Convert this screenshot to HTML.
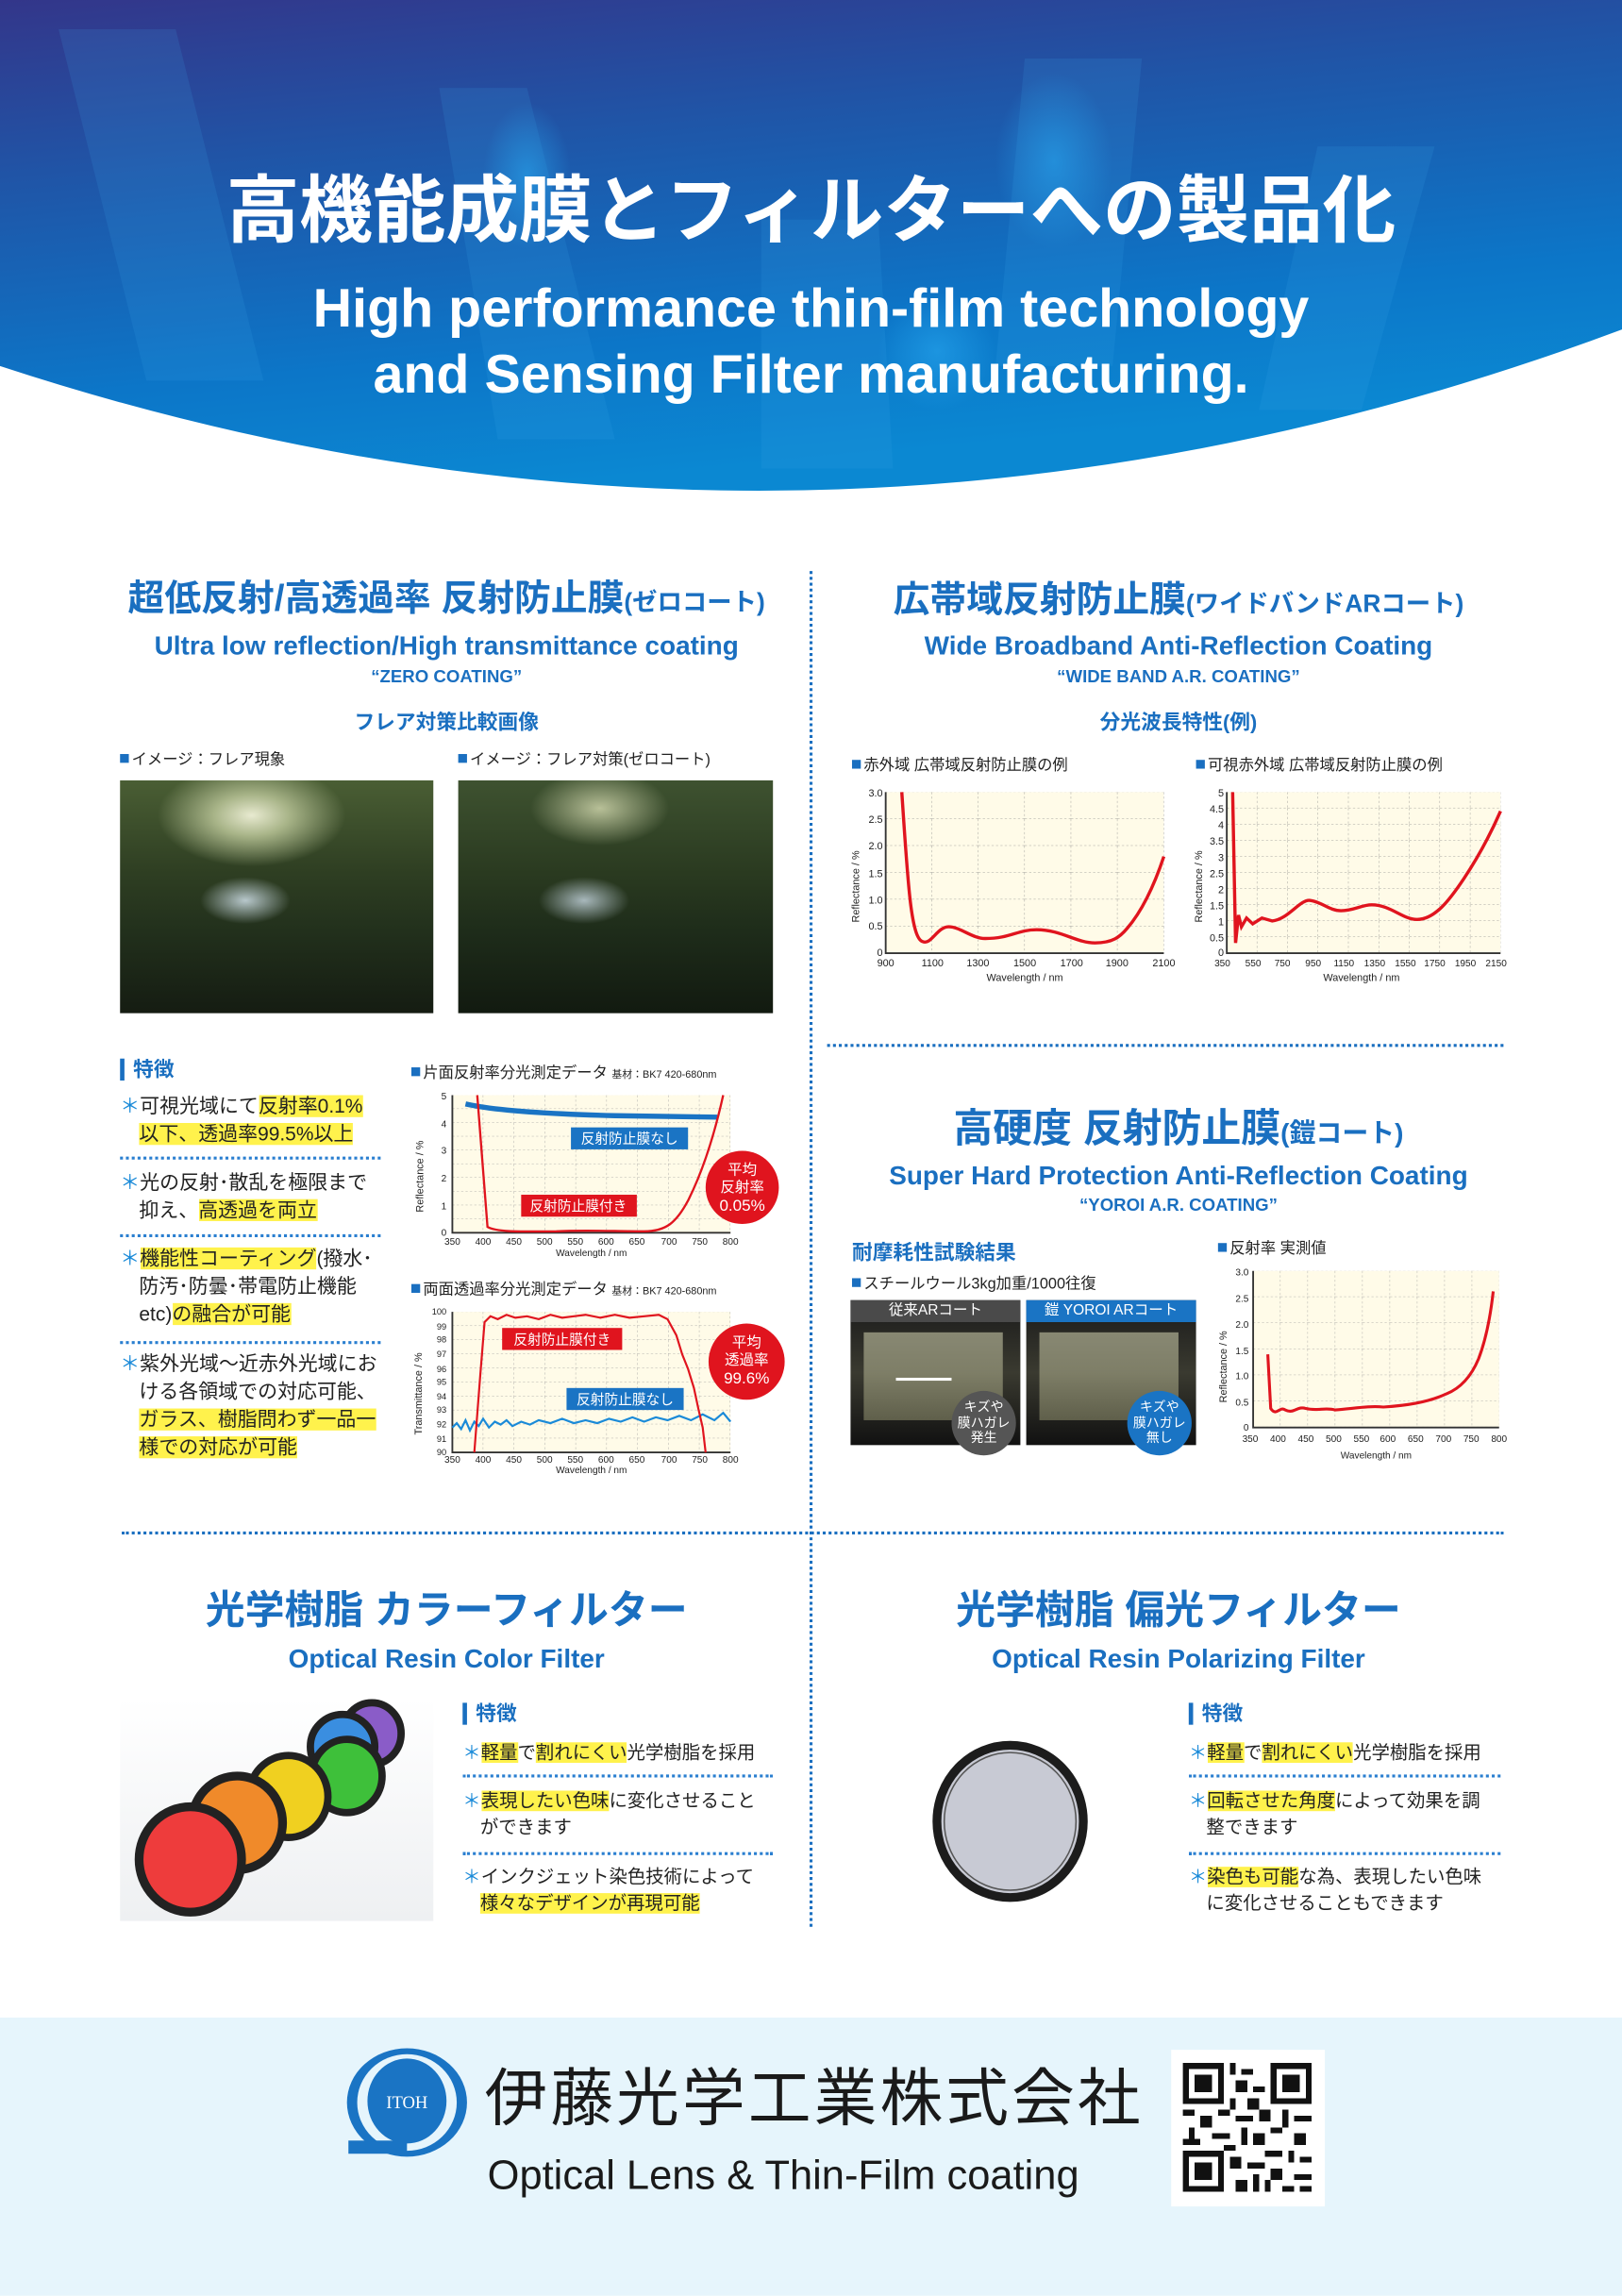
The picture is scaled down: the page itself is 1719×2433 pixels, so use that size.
<!DOCTYPE html>
<html><head><meta charset="utf-8">
<style>
html,body{margin:0;padding:0;background:#fff;}
body{width:1719px;height:2433px;overflow:hidden;position:relative;}
#w{position:absolute;left:0;top:0;width:1108px;height:1568px;transform:scale(1.5515);transform-origin:0 0;font-family:"Liberation Sans","Noto Sans CJK JP",sans-serif;}
.a{position:absolute;white-space:nowrap;}
.c{text-align:center;}
.blue{color:#1a6fc0;}
.b{font-weight:bold;}
.m{background:#fff24c;}
.ast{color:#1a8ad8;}
.t14{font-size:13.5px;color:#222;}
.t13{font-size:12.5px;color:#222;}
.hd{border-left:3px solid #1a6fc0;padding-left:6px;font-size:14px;font-weight:bold;color:#1a6fc0;line-height:15px;}
.dl{position:absolute;border-top:2.5px dotted #1a6fc0;height:0;}
.dls{position:absolute;border-top:2px dotted #2a7fd0;height:0;}
.sq{display:inline-block;width:6px;height:6px;background:#1a6fc0;margin-right:2px;vertical-align:1px;}
</style></head><body>
<div id="w">
<!-- header -->
<svg class="a" style="left:0;top:0" width="1108" height="340" viewBox="0 0 1108 340">
<defs>
<linearGradient id="hg" x1="0" y1="0" x2="0.3" y2="1">
<stop offset="0" stop-color="#33368a"/><stop offset="0.35" stop-color="#1f56a8"/><stop offset="0.75" stop-color="#0c76c8"/><stop offset="1" stop-color="#0b88d2"/></linearGradient>
<radialGradient id="gl" cx="0.5" cy="0.5" r="0.5"><stop offset="0" stop-color="#27a6ee" stop-opacity="0.6"/><stop offset="1" stop-color="#27a6ee" stop-opacity="0"/></radialGradient>
</defs>
<path d="M0,0 H1108 V225 Q554,432 0,250 Z" fill="url(#hg)"/>
<g opacity="0.15" fill="#3fa8e8">
<polygon points="40,20 120,20 180,260 100,260"/><polygon points="300,60 360,60 420,300 340,300"/><polygon points="700,40 780,40 760,250 680,250"/><polygon points="900,100 980,100 930,280 860,280"/><polygon points="520,150 600,150 610,320 520,320"/>
</g>
<ellipse cx="360" cy="120" rx="30" ry="50" fill="url(#gl)"/><ellipse cx="720" cy="110" rx="40" ry="60" fill="url(#gl)"/><ellipse cx="640" cy="240" rx="40" ry="40" fill="url(#gl)"/>
</svg>
<div class="a c b" style="left:0;width:1108px;top:114px;font-size:50px;color:#fff;line-height:60px;">高機能成膜とフィルターへの製品化</div>
<div class="a c" style="left:0;width:1108px;top:189px;font-size:37px;color:#fff;line-height:44px;font-weight:bold;">High performance thin-film technology</div>
<div class="a c" style="left:0;width:1108px;top:234px;font-size:37px;color:#fff;line-height:44px;font-weight:bold;">and Sensing Filter manufacturing.</div>

<!-- dividers -->
<div class="a" style="left:553px;top:390px;height:926px;border-left:2.5px dotted #1a6fc0;"></div>
<div class="dl" style="left:565px;top:713px;width:462px;"></div>
<div class="dl" style="left:83px;top:1046px;width:944px;"></div>

<!-- left top -->
<div class="a c b blue" style="left:60px;width:490px;top:393px;font-size:25px;line-height:32px;">超低反射/高透過率 反射防止膜<span style="font-size:17px">(ゼロコート)</span></div>
<div class="a c b blue" style="left:60px;width:490px;top:429px;font-size:18px;line-height:24px;">Ultra low reflection/High transmittance coating</div>
<div class="a c b blue" style="left:60px;width:490px;top:454px;font-size:12px;line-height:16px;">“ZERO COATING”</div>
<div class="a c b blue" style="left:60px;width:490px;top:484px;font-size:14px;line-height:18px;">フレア対策比較画像</div>
<div class="a" style="left:82px;top:511px;font-size:10.5px;color:#222;"><span class="sq"></span>イメージ：フレア現象</div>
<div class="a" style="left:313px;top:511px;font-size:10.5px;color:#222;"><span class="sq"></span>イメージ：フレア対策(ゼロコート)</div>
<div class="a" style="left:82px;top:533px;width:214px;height:159px;background:radial-gradient(ellipse 30% 22% at 42% 15%,#e8ead0 0%,#a8b488 40%,rgba(90,110,60,0) 100%),linear-gradient(180deg,#4a5e34 0%,#2e3e22 40%,#22301c 65%,#151c12 100%);"></div>
<div class="a" style="left:82px;top:590px;width:214px;height:50px;background:radial-gradient(ellipse 18% 40% at 40% 50%,#b8c8cc 0%,rgba(200,210,210,0) 80%);"></div>
<div class="a" style="left:313px;top:533px;width:215px;height:159px;background:radial-gradient(ellipse 22% 16% at 45% 12%,#b8c098 0%,rgba(90,110,60,0) 100%),linear-gradient(180deg,#3e5230 0%,#2a3a20 40%,#1e2c1a 65%,#121a10 100%);"></div>
<div class="a" style="left:313px;top:590px;width:215px;height:50px;background:radial-gradient(ellipse 18% 40% at 40% 50%,#a8b8bc 0%,rgba(200,210,210,0) 80%);"></div>

<!-- right top -->
<div class="a c b blue" style="left:555px;width:500px;top:394px;font-size:25px;line-height:32px;">広帯域反射防止膜<span style="font-size:17px">(ワイドバンドARコート)</span></div>
<div class="a c b blue" style="left:555px;width:500px;top:429px;font-size:18px;line-height:24px;">Wide Broadband Anti-Reflection Coating</div>
<div class="a c b blue" style="left:555px;width:500px;top:454px;font-size:12px;line-height:16px;">“WIDE BAND A.R. COATING”</div>
<div class="a c b blue" style="left:555px;width:500px;top:484px;font-size:14px;line-height:18px;">分光波長特性(例)</div>
<div class="a" style="left:582px;top:515px;font-size:10.5px;color:#222;"><span class="sq"></span>赤外域 広帯域反射防止膜の例</div>
<div class="a" style="left:817px;top:515px;font-size:10.5px;color:#222;"><span class="sq"></span>可視赤外域 広帯域反射防止膜の例</div>

<svg class="a" style="left:0;top:0" width="1108" height="1568" viewBox="0 0 1108 1568" font-family="Liberation Sans, sans-serif">
<defs>
<pattern id="gA" x="605" y="541" width="31.67" height="18.33" patternUnits="userSpaceOnUse"><path d="M31.67,0 V18.33 M0,18.33 H31.67" stroke="#888" stroke-width="0.5" stroke-dasharray="1.5,1.5" fill="none"/></pattern>
<pattern id="gB" x="838" y="541" width="20.8" height="11" patternUnits="userSpaceOnUse"><path d="M20.8,0 V11 M0,11 H20.8" stroke="#888" stroke-width="0.5" stroke-dasharray="1.5,1.5" fill="none"/></pattern>
<pattern id="gC" x="309" y="748" width="21.1" height="9.4" patternUnits="userSpaceOnUse"><path d="M21.1,0 V9.4 M0,9.4 H21.1" stroke="#999" stroke-width="0.5" stroke-dasharray="1.5,1.5" fill="none"/></pattern>
<pattern id="gD" x="309" y="896" width="21.1" height="9.6" patternUnits="userSpaceOnUse"><path d="M21.1,0 V9.6 M0,9.6 H21.1" stroke="#999" stroke-width="0.5" stroke-dasharray="1.5,1.5" fill="none"/></pattern>
<pattern id="gE" x="856" y="868" width="18.7" height="17.8" patternUnits="userSpaceOnUse"><path d="M18.7,0 V17.8 M0,17.8 H18.7" stroke="#999" stroke-width="0.5" stroke-dasharray="1.5,1.5" fill="none"/></pattern>
</defs>
<!-- chart A -->
<rect x="605" y="541" width="190" height="110" fill="#fffbe8"/><rect x="605" y="541" width="190" height="110" fill="url(#gA)"/>
<path d="M605,541 V651 H795" stroke="#333" stroke-width="1.2" fill="none"/>
<path d="M616,541 C620,600 622,640 630,643 C636,646 640,633 648,633 C656,633 664,641 673,641 C690,641 695,635 708,635 C725,635 735,644 748,644 C760,644 765,640 770,634 C782,620 790,600 795,585" stroke="#e0141e" stroke-width="2.2" fill="none"/>
<g font-size="7" fill="#222" text-anchor="end"><text x="603" y="544">3.0</text><text x="603" y="562">2.5</text><text x="603" y="580">2.0</text><text x="603" y="599">1.5</text><text x="603" y="617">1.0</text><text x="603" y="635">0.5</text><text x="603" y="653">0</text></g>
<g font-size="7" fill="#222" text-anchor="middle"><text x="605" y="660">900</text><text x="637" y="660">1100</text><text x="668" y="660">1300</text><text x="700" y="660">1500</text><text x="732" y="660">1700</text><text x="763" y="660">1900</text><text x="795" y="660">2100</text><text x="700" y="670">Wavelength / nm</text></g>
<text transform="translate(587,630) rotate(-90)" font-size="7" fill="#222">Reflectance / %</text>
<!-- chart B -->
<rect x="838" y="541" width="187" height="110" fill="#fffbe8"/><rect x="838" y="541" width="187" height="110" fill="url(#gB)"/>
<path d="M838,541 V651 H1025" stroke="#333" stroke-width="1.2" fill="none"/>
<path d="M842,541 L844,644 L846,625 L848,633 L851.5,627 L855.7,631 L862,627 L869,629 C880,628 888,614 895,615 C903,616 908,622 916,622 C925,622 930,618 937,618 C950,618 958,628 968,628 C980,628 990,615 1000,600 C1010,585 1018,570 1025,554" stroke="#e0141e" stroke-width="2.2" fill="none"/>
<g font-size="7" fill="#222" text-anchor="end"><text x="836" y="544">5</text><text x="836" y="555">4.5</text><text x="836" y="566">4</text><text x="836" y="577">3.5</text><text x="836" y="588">3</text><text x="836" y="599">2.5</text><text x="836" y="610">2</text><text x="836" y="621">1.5</text><text x="836" y="632">1</text><text x="836" y="643">0.5</text><text x="836" y="653">0</text></g>
<g font-size="6.5" fill="#222" text-anchor="middle"><text x="835" y="660">350</text><text x="856" y="660">550</text><text x="876" y="660">750</text><text x="897" y="660">950</text><text x="918" y="660">1150</text><text x="939" y="660">1350</text><text x="960" y="660">1550</text><text x="980" y="660">1750</text><text x="1001" y="660">1950</text><text x="1022" y="660">2150</text><text x="930" y="670" font-size="7">Wavelength / nm</text></g>
<text transform="translate(821,630) rotate(-90)" font-size="7" fill="#222">Reflectance / %</text>
<!-- chart C -->
<rect x="309" y="748" width="190" height="94" fill="#fffbe8"/><rect x="309" y="748" width="190" height="94" fill="url(#gC)"/>
<path d="M309,748 V842 H499" stroke="#333" stroke-width="1.2" fill="none"/>
<path d="M318,754 C340,759 380,761 420,762 L490,763" stroke="#1a74c4" stroke-width="3.5" fill="none"/>
<path d="M326,748 L333,838 C340,842 360,841 380,841 C400,840 420,841 440,841 C455,841 462,835 470,820 C480,800 488,775 494,748" stroke="#e0141e" stroke-width="1.5" fill="none"/>
<g font-size="6.5" fill="#222" text-anchor="end"><text x="305" y="751">5</text><text x="305" y="770">4</text><text x="305" y="788">3</text><text x="305" y="807">2</text><text x="305" y="826">1</text><text x="305" y="844">0</text></g>
<g font-size="6.5" fill="#222" text-anchor="middle"><text x="309" y="850">350</text><text x="330" y="850">400</text><text x="351" y="850">450</text><text x="372" y="850">500</text><text x="393" y="850">550</text><text x="414" y="850">600</text><text x="435" y="850">650</text><text x="457" y="850">700</text><text x="478" y="850">750</text><text x="499" y="850">800</text><text x="404" y="858">Wavelength / nm</text></g>
<text transform="translate(289,828) rotate(-90)" font-size="7" fill="#222">Reflectance / %</text>
<rect x="390" y="770" width="80" height="15" fill="#1a74c4"/><text x="430" y="781" fill="#fff" font-size="9.5" text-anchor="middle" font-family="Liberation Sans, Noto Sans CJK JP, sans-serif">反射防止膜なし</text>
<rect x="356" y="816" width="79" height="15" fill="#e0141e"/><text x="395" y="827" fill="#fff" font-size="9.5" text-anchor="middle" font-family="Liberation Sans, Noto Sans CJK JP, sans-serif">反射防止膜付き</text>
<circle cx="507" cy="811" r="25" fill="#e0141e"/>
<g fill="#fff" font-size="10" text-anchor="middle" font-family="Liberation Sans, Noto Sans CJK JP, sans-serif"><text x="507" y="802">平均</text><text x="507" y="814">反射率</text><text x="507" y="827" font-size="11">0.05%</text></g>
<!-- chart D -->
<rect x="309" y="896" width="190" height="96" fill="#fffbe8"/><rect x="309" y="896" width="190" height="96" fill="url(#gD)"/>
<path d="M309,896 V992 H499" stroke="#333" stroke-width="1.2" fill="none"/>
<polyline points="309,975 312,972 315,976 318,970 321,977 324,971 327,974 330,969 334,975 338,971 342,973 346,970 350,974 356,971 362,973 368,970 376,972 384,969 392,972 400,970 408,972 416,969 424,971 432,968 440,971 448,968 456,970 464,967 472,970 480,966 488,970 494,965 499,971" stroke="#1a8ad8" stroke-width="1.4" fill="none"/>
<polyline points="324,992 328,940 331,903 335,899 340,901 346,898 352,900 360,899 368,901 376,898 384,900 392,899 400,898 410,900 420,898 430,900 440,899 450,898 456,901 462,912 466,925 470,935 474,948 477,962 480,975 482,992" stroke="#e0141e" stroke-width="1.4" fill="none"/>
<g font-size="6" fill="#222" text-anchor="end"><text x="305" y="898">100</text><text x="305" y="908">99</text><text x="305" y="917">98</text><text x="305" y="927">97</text><text x="305" y="937">96</text><text x="305" y="946">95</text><text x="305" y="956">94</text><text x="305" y="965">93</text><text x="305" y="975">92</text><text x="305" y="985">91</text><text x="305" y="994">90</text></g>
<g font-size="6.5" fill="#222" text-anchor="middle"><text x="309" y="999">350</text><text x="330" y="999">400</text><text x="351" y="999">450</text><text x="372" y="999">500</text><text x="393" y="999">550</text><text x="414" y="999">600</text><text x="435" y="999">650</text><text x="457" y="999">700</text><text x="478" y="999">750</text><text x="499" y="999">800</text><text x="404" y="1006">Wavelength / nm</text></g>
<text transform="translate(288,980) rotate(-90)" font-size="7" fill="#222">Transmittance / %</text>
<rect x="343" y="907" width="82" height="15" fill="#e0141e"/><text x="384" y="918" fill="#fff" font-size="9.5" text-anchor="middle" font-family="Liberation Sans, Noto Sans CJK JP, sans-serif">反射防止膜付き</text>
<rect x="387" y="948" width="80" height="15" fill="#1a74c4"/><text x="427" y="959" fill="#fff" font-size="9.5" text-anchor="middle" font-family="Liberation Sans, Noto Sans CJK JP, sans-serif">反射防止膜なし</text>
<circle cx="510" cy="930" r="26" fill="#e0141e"/>
<g fill="#fff" font-size="10" text-anchor="middle" font-family="Liberation Sans, Noto Sans CJK JP, sans-serif"><text x="510" y="920">平均</text><text x="510" y="932">透過率</text><text x="510" y="945" font-size="11">99.6%</text></g>
<!-- chart E -->
<rect x="856" y="868" width="168" height="107" fill="#fffbe8"/><rect x="856" y="868" width="168" height="107" fill="url(#gE)"/>
<path d="M856,868 V975 H1024" stroke="#333" stroke-width="1.2" fill="none"/>
<path d="M866,925 L868,962 C872,968 874,960 878,963 C884,966 886,960 892,962 C900,964 905,961 912,963 C925,962 935,960 945,961 C960,960 975,958 988,952 C998,948 1005,940 1010,928 C1015,915 1018,900 1020,882" stroke="#e0141e" stroke-width="2" fill="none"/>
<g font-size="6.5" fill="#222" text-anchor="end"><text x="853" y="871">3.0</text><text x="853" y="889">2.5</text><text x="853" y="907">2.0</text><text x="853" y="925">1.5</text><text x="853" y="942">1.0</text><text x="853" y="960">0.5</text><text x="853" y="977">0</text></g>
<g font-size="6.5" fill="#222" text-anchor="middle"><text x="854" y="985">350</text><text x="873" y="985">400</text><text x="892" y="985">450</text><text x="911" y="985">500</text><text x="930" y="985">550</text><text x="948" y="985">600</text><text x="967" y="985">650</text><text x="986" y="985">700</text><text x="1005" y="985">750</text><text x="1024" y="985">800</text><text x="940" y="996">Wavelength / nm</text></g>
<text transform="translate(838,958) rotate(-90)" font-size="7" fill="#222">Reflectance / %</text>
</svg>

<!-- left middle features -->
<div class="a hd" style="left:82px;top:723px;">特徴</div>
<div class="a t14" style="left:82px;top:746px;line-height:19px;"><span class="ast">＊</span>可視光域にて<span class="m">反射率0.1%</span><br><span style="padding-left:13px"></span><span class="m">以下、透過率99.5%以上</span></div>
<div class="dls" style="left:82px;top:790px;width:178px;"></div>
<div class="a t14" style="left:82px;top:798px;line-height:19px;"><span class="ast">＊</span>光の反射･散乱を極限まで<br><span style="padding-left:13px"></span>抑え、<span class="m">高透過を両立</span></div>
<div class="dls" style="left:82px;top:843px;width:178px;"></div>
<div class="a t14" style="left:82px;top:850px;line-height:19px;"><span class="ast">＊</span><span class="m">機能性コーティング</span>(撥水･<br><span style="padding-left:13px"></span>防汚･防曇･帯電防止機能<br><span style="padding-left:13px"></span>etc)<span class="m">の融合が可能</span></div>
<div class="dls" style="left:82px;top:916px;width:178px;"></div>
<div class="a t14" style="left:82px;top:922px;line-height:19px;"><span class="ast">＊</span>紫外光域～近赤外光域にお<br><span style="padding-left:13px"></span>ける各領域での対応可能、<br><span style="padding-left:13px"></span><span class="m">ガラス、樹脂問わず一品一</span><br><span style="padding-left:13px"></span><span class="m">様での対応が可能</span></div>
<div class="a" style="left:281px;top:725px;font-size:10.5px;color:#222;"><span class="sq"></span>片面反射率分光測定データ <span style="font-size:7px">基材：BK7 420-680nm</span></div>
<div class="a" style="left:281px;top:873px;font-size:10.5px;color:#222;"><span class="sq"></span>両面透過率分光測定データ <span style="font-size:7px">基材：BK7 420-680nm</span></div>

<!-- right middle -->
<div class="a c b blue" style="left:555px;width:500px;top:754px;font-size:27px;line-height:34px;">高硬度 反射防止膜<span style="font-size:18px">(鎧コート)</span></div>
<div class="a c b blue" style="left:555px;width:500px;top:791px;font-size:18px;line-height:24px;">Super Hard Protection Anti-Reflection Coating</div>
<div class="a c b blue" style="left:555px;width:500px;top:815px;font-size:12px;line-height:16px;">“YOROI A.R. COATING”</div>
<div class="a b blue" style="left:582px;top:845px;font-size:14px;">耐摩耗性試験結果</div>
<div class="a" style="left:582px;top:869px;font-size:10.5px;color:#222;"><span class="sq"></span>スチールウール3kg加重/1000往復</div>
<div class="a" style="left:832px;top:845px;font-size:10.5px;color:#222;"><span class="sq"></span>反射率 実測値</div>
<div class="a" style="left:581px;top:888px;width:116px;height:99px;background:linear-gradient(180deg,#1a1a1a,#3a3a30 50%,#111);"></div>
<div class="a c" style="left:581px;top:888px;width:116px;height:15px;background:#4a4a4a;color:#fff;font-size:10px;line-height:15px;">従来ARコート</div>
<div class="a" style="left:590px;top:910px;width:95px;height:60px;background:linear-gradient(180deg,#c8c8a8,#8a8a6a);opacity:0.6;"></div>
<div class="a" style="left:612px;top:941px;width:38px;height:2px;background:#fff;"></div>
<div class="a" style="left:701px;top:888px;width:116px;height:99px;background:linear-gradient(180deg,#1a1a1a,#3a3a30 50%,#111);"></div>
<div class="a c" style="left:701px;top:888px;width:116px;height:15px;background:#1a74c4;color:#fff;font-size:10px;line-height:15px;">鎧 YOROI ARコート</div>
<div class="a" style="left:710px;top:910px;width:95px;height:60px;background:linear-gradient(180deg,#c8c8a8,#8a8a6a);opacity:0.6;"></div>
<div class="a c" style="left:650px;top:950px;width:44px;height:44px;border-radius:50%;background:#555;color:#fff;font-size:9px;line-height:10.5px;"><div style="padding-top:6px">キズや<br>膜ハガレ<br>発生</div></div>
<div class="a c" style="left:770px;top:950px;width:44px;height:44px;border-radius:50%;background:#1a74c4;color:#fff;font-size:9px;line-height:10.5px;"><div style="padding-top:6px">キズや<br>膜ハガレ<br>無し</div></div>

<!-- bottom left -->
<div class="a c b blue" style="left:60px;width:490px;top:1083px;font-size:27px;line-height:34px;">光学樹脂 カラーフィルター</div>
<div class="a c b blue" style="left:60px;width:490px;top:1121px;font-size:18px;line-height:24px;">Optical Resin Color Filter</div>
<div class="a" style="left:82px;top:1160px;width:214px;height:152px;background:linear-gradient(180deg,#fff,#eef0f2);"></div>
<svg class="a" style="left:82px;top:1160px" width="214" height="152" viewBox="0 0 214 152">
<ellipse cx="172" cy="24" rx="20" ry="21" fill="#8a5cc8" stroke="#222" stroke-width="5"/>
<ellipse cx="152" cy="33" rx="22" ry="22" fill="#3a8ee0" stroke="#222" stroke-width="5"/>
<ellipse cx="155" cy="53" rx="24" ry="25" fill="#3ec03a" stroke="#222" stroke-width="5"/>
<ellipse cx="115" cy="67" rx="27" ry="28" fill="#f0d020" stroke="#222" stroke-width="5"/>
<ellipse cx="80" cy="85" rx="31" ry="32" fill="#f08a2a" stroke="#222" stroke-width="6"/>
<ellipse cx="48" cy="110" rx="35" ry="36" fill="#ee3c3c" stroke="#222" stroke-width="6"/>
</svg>
<div class="a hd" style="left:316px;top:1163px;">特徴</div>
<div class="a t13" style="left:316px;top:1188px;line-height:18px;"><span class="ast">＊</span><span class="m">軽量</span>で<span class="m">割れにくい</span>光学樹脂を採用</div>
<div class="dls" style="left:316px;top:1212px;width:212px;"></div>
<div class="a t13" style="left:316px;top:1221px;line-height:18px;"><span class="ast">＊</span><span class="m">表現したい色味</span>に変化させること<br><span style="padding-left:12px"></span>ができます</div>
<div class="dls" style="left:316px;top:1265px;width:212px;"></div>
<div class="a t13" style="left:316px;top:1273px;line-height:18px;"><span class="ast">＊</span>インクジェット染色技術によって<br><span style="padding-left:12px"></span><span class="m">様々なデザインが再現可能</span></div>

<!-- bottom right -->
<div class="a c b blue" style="left:555px;width:500px;top:1083px;font-size:27px;line-height:34px;">光学樹脂 偏光フィルター</div>
<div class="a c b blue" style="left:555px;width:500px;top:1121px;font-size:18px;line-height:24px;">Optical Resin Polarizing Filter</div>
<svg class="a" style="left:630px;top:1180px" width="120" height="130" viewBox="0 0 120 130">
<ellipse cx="60" cy="64" rx="50" ry="52" fill="#c8cad4" stroke="#1c1c1c" stroke-width="6"/>
<ellipse cx="60" cy="64" rx="45" ry="47" fill="none" stroke="#555" stroke-width="1"/>
</svg>
<div class="a hd" style="left:812px;top:1163px;">特徴</div>
<div class="a t13" style="left:812px;top:1188px;line-height:18px;"><span class="ast">＊</span><span class="m">軽量</span>で<span class="m">割れにくい</span>光学樹脂を採用</div>
<div class="dls" style="left:812px;top:1212px;width:213px;"></div>
<div class="a t13" style="left:812px;top:1221px;line-height:18px;"><span class="ast">＊</span><span class="m">回転させた角度</span>によって効果を調<br><span style="padding-left:12px"></span>整できます</div>
<div class="dls" style="left:812px;top:1265px;width:213px;"></div>
<div class="a t13" style="left:812px;top:1273px;line-height:18px;"><span class="ast">＊</span><span class="m">染色も可能</span>な為、表現したい色味<br><span style="padding-left:12px"></span>に変化させることもできます</div>

<!-- footer -->
<div class="a" style="left:0;top:1378px;width:1108px;height:190px;background:#e6f5fc;"></div>
<svg class="a" style="left:230px;top:1395px" width="95" height="85" viewBox="0 0 95 85">
<ellipse cx="48" cy="41" rx="41" ry="37" fill="#1a74c4"/>
<ellipse cx="48" cy="41" rx="34" ry="33" fill="#e6f5fc"/>
<ellipse cx="48" cy="40" rx="27" ry="29" fill="#1a74c4"/>
<rect x="8" y="67" width="40" height="9" fill="#1a74c4"/>
<text x="48" y="45" fill="#fff" font-size="12" text-anchor="middle" font-family="Liberation Serif, serif">ITOH</text>
</svg>
<div class="a" style="left:331px;top:1408px;font-size:43px;line-height:52px;color:#1a1a1a;letter-spacing:2px;">伊藤光学工業株式会社</div>
<div class="a" style="left:333px;top:1469px;font-size:28px;line-height:34px;color:#1a1a1a;">Optical Lens &amp; Thin-Film coating</div>
<div class="a" style="left:800px;top:1400px;width:105px;height:107px;background:#fff;"></div>
<svg class="a" style="left:808px;top:1408px" width="88" height="90" viewBox="0 0 22 22" shape-rendering="crispEdges">
<rect width="22" height="22" fill="#fff"/>
<g fill="#111">
<path d="M0,0h7v7h-7z M15,0h7v7h-7z M0,15h7v7h-7z"/>
</g>
<g fill="#fff"><path d="M1,1h5v5h-5z M16,1h5v5h-5z M1,16h5v5h-5z"/></g>
<g fill="#111"><path d="M2,2h3v3h-3z M17,2h3v3h-3z M2,17h3v3h-3z"/>
<path d="M8,0h1v2h-1z M10,1h2v1h-2z M9,3h2v2h-2z M12,4h2v1h-2z M8,6h1v2h-1z M11,6h2v2h-2z M0,8h2v1h-2z M3,9h2v2h-2z M6,8h2v1h-2z M9,9h3v1h-3z M13,8h2v2h-2z M17,8h1v3h-1z M19,9h3v1h-3z M1,11h1v2h-1z M5,12h3v1h-3z M10,11h1v3h-1z M12,12h2v2h-2z M15,11h2v1h-2z M19,12h2v2h-2z M0,13h3v1h-3z M7,14h2v1h-2z M14,15h3v1h-3z M18,15h1v2h-1z M20,16h2v1h-2z M8,16h2v2h-2z M11,17h3v1h-3z M15,18h2v2h-2z M19,19h3v1h-3z M9,20h2v2h-2z M12,19h1v3h-1z M17,21h2v1h-2z M14,20h1v2h-1z M20,21h2v1h-2z"/></g>
</svg>
</div>
</body></html>
